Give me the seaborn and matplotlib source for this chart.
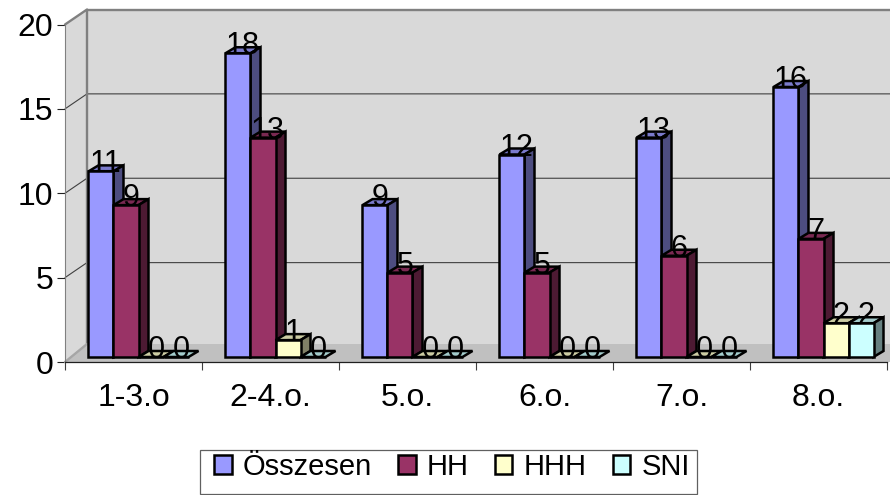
#!/usr/bin/env python3
"""
Excel style pseudo-3D grouped bars, drawn on top of a seaborn barplot.
"""
import numpy as np
import pandas as pd
import matplotlib
matplotlib.use("Agg")
import matplotlib.pyplot as plt
import seaborn as sns
from matplotlib.lines import Line2D
from matplotlib.patches import Polygon, Rectangle
from matplotlib.transforms import Affine2D, IdentityTransform

categories = ["1-3.o", "2-4.o.", "5.o.", "6.o.", "7.o.", "8.o."]
series_names = ["Összesen", "HH", "HHH", "SNI"]
osszesen = [11, 18, 9, 12, 13, 16]
hh = [9, 13, 5, 5, 6, 7]
hhh = [0, 1, 0, 0, 0, 2]
sni = [0, 0, 0, 0, 0, 2]

front_colors = ["#9999FF", "#993366", "#FFFFCC", "#CCFFFF"]
top_colors = ["#7A7ACC", "#7A2952", "#CCCCA3", "#A3CCCC"]
side_colors = ["#4D4D80", "#4D1A33", "#808066", "#668080"]

W, H = 890, 495
WALL_DX, WALL_DY = 22, 15      # depth of the walls, px
FLOOR_DY = 18                  # floor back edge sits a little higher
BAR_DX, BAR_DY = 10, 6         # depth of one bar, px
BAR_SHIFT = (5, 5)             # bars stand a bit behind the front edge
RIGHT_EDGE = W + 30            # walls run off the picture


def build_frame():
    rows = []
    for name, values in zip(series_names, [osszesen, hh, hhh, sni]):
        for cat, val in zip(categories, values):
            rows.append({"cat": cat, "series": name, "value": val})
    return pd.DataFrame(rows)


def draw_walls(ax):
    ident = IdentityTransform()
    x0, y0 = ax.transData.transform((-0.5, 0))
    _, y20 = ax.transData.transform((-0.5, 20))

    back = [(x0 + WALL_DX, y0 + FLOOR_DY), (RIGHT_EDGE, y0 + FLOOR_DY),
            (RIGHT_EDGE, y20 + WALL_DY), (x0 + WALL_DX, y20 + WALL_DY)]
    side = [(x0, y0), (x0 + WALL_DX, y0 + FLOOR_DY),
            (x0 + WALL_DX, y20 + WALL_DY), (x0, y20)]
    floor = [(x0, y0), (RIGHT_EDGE, y0), (RIGHT_EDGE, y0 + FLOOR_DY),
             (x0 + WALL_DX, y0 + FLOOR_DY)]
    for pts, col in [(back, "#D9D9D9"), (side, "#D9D9D9"), (floor, "#C0C0C0")]:
        ax.add_patch(Polygon(pts, closed=True, fc=col, ec="none", transform=ident,
                             clip_on=False, zorder=0.5))

    # gridlines, with the diagonal on the side wall
    for v in [5, 10, 15]:
        _, y = ax.transData.transform((-0.5, v))
        ax.add_line(Line2D([x0, x0 + WALL_DX, RIGHT_EDGE],
                           [y, y + WALL_DY, y + WALL_DY],
                           color="#404040", lw=0.8, transform=ident,
                           clip_on=False, zorder=0.8))

    # wall outline
    ax.add_line(Line2D([x0, x0 + WALL_DX, x0 + WALL_DX],
                       [y20, y20 + WALL_DY, y0 + FLOOR_DY],
                       color="#808080", lw=1.7, transform=ident, clip_on=False, zorder=0.9))
    ax.add_line(Line2D([x0 + WALL_DX, RIGHT_EDGE], [y20 + WALL_DY, y20 + WALL_DY],
                       color="#808080", lw=1.7, transform=ident, clip_on=False, zorder=0.9))
    ax.add_line(Line2D([x0, x0 + WALL_DX], [y0, y0 + FLOOR_DY],
                       color="#A6A6A6", lw=1.7, transform=ident, clip_on=False, zorder=0.9))


def draw_bars_3d(ax):
    ident = IdentityTransform()
    shift = ax.transData + Affine2D().translate(*BAR_SHIFT)
    label_shift = ax.transData + Affine2D().translate(BAR_SHIFT[0] + 5, BAR_SHIFT[1] - 1)
    for s, container in enumerate(ax.containers):
        z = 3 + s * 0.1
        for bar in container:
            val = bar.get_height()
            left, right = bar.get_x(), bar.get_x() + bar.get_width()
            xl, yb = shift.transform((left, 0))
            xr, yt = shift.transform((right, val))

            bar.set_transform(shift)
            bar.set_clip_on(False)
            bar.set_zorder(z + 0.05)

            dx, dy = BAR_DX, BAR_DY
            top = [(xl, yt), (xr, yt), (xr + dx, yt + dy), (xl + dx, yt + dy)]
            ax.add_patch(Polygon(top, closed=True, fc=top_colors[s], ec="black", lw=1.8,
                                 transform=ident, clip_on=False, zorder=z))
            if val > 0:
                side = [(xr, yb), (xr + dx, yb + dy), (xr + dx, yt + dy), (xr, yt)]
                ax.add_patch(Polygon(side, closed=True, fc=side_colors[s], ec="black", lw=1.8,
                                     transform=ident, clip_on=False, zorder=z))
            ax.text((left + right) / 2, val, f"{val:.0f}", ha="center", va="baseline",
                    fontsize=22, color="black", transform=label_shift, clip_on=False, zorder=10)


def main():
    sns.set_theme(style="white")
    plt.rcParams["font.family"] = ["Liberation Sans", "DejaVu Sans"]

    df = build_frame()
    fig = plt.figure(figsize=(W / 100, H / 100), dpi=100)
    ax = fig.add_axes([65 / W, (H - 362) / H, 822 / W, 337.5 / H])
    sns.barplot(data=df, x="cat", y="value", hue="series", order=categories,
                hue_order=series_names, palette=front_colors, saturation=1,
                width=0.73, gap=0, edgecolor="black", linewidth=1.8, ax=ax, legend=True)
    handles, labels = ax.get_legend_handles_labels()
    ax.get_legend().remove()

    ax.set_xlim(-0.5, 5.5)
    ax.set_ylim(0, 20)
    ax.set_xlabel("")
    ax.set_ylabel("")
    ax.patch.set_visible(False)

    ax.set_yticks([0, 5, 10, 15, 20])
    ax.set_xticks(np.arange(7) - 0.5, labels=[""] * 7)
    ax.set_xticks(np.arange(6), labels=categories, minor=True)
    ax.tick_params(axis="y", left=True, length=5.5, width=0.8, color="#202020",
                   pad=3, labelsize=23, labelcolor="black")
    ax.tick_params(axis="x", which="major", bottom=True, length=5.5, width=0.8, color="#404040")
    ax.tick_params(axis="x", which="minor", bottom=False, length=0, pad=15,
                   labelsize=23, labelcolor="black")

    for name in ["top", "right"]:
        ax.spines[name].set_visible(False)
    ax.spines["left"].set_color("#808080")
    ax.spines["left"].set_linewidth(0.8)
    ax.spines["bottom"].set_color("#202020")
    ax.spines["bottom"].set_linewidth(0.9)

    draw_walls(ax)
    draw_bars_3d(ax)

    # legend box is its own rectangle so the entries can sit high inside it
    fig.add_artist(Rectangle((200 / W, 1 - 494 / H), 497 / W, 44 / H, transform=fig.transFigure,
                             fc="white", ec="#606060", lw=0.9))
    leg = fig.legend(handles, labels, loc="upper left", bbox_to_anchor=(214 / W, 1 - 453 / H),
                     bbox_transform=fig.transFigure, ncol=4, fontsize=21, frameon=False,
                     labelcolor="black", handlelength=0.6, handleheight=0.6,
                     handletextpad=0.38, columnspacing=0.9, borderpad=0, borderaxespad=0)
    leg.set_zorder(5)

    fig.savefig("out.png", dpi=100)
    plt.close(fig)


if __name__ == "__main__":
    main()
